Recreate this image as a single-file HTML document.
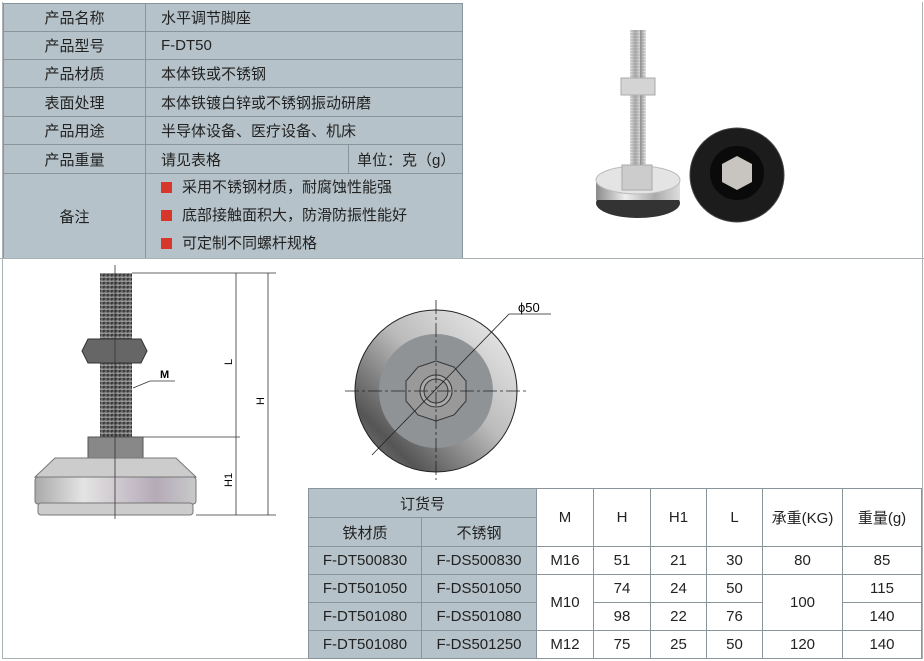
<!DOCTYPE html>
<html><head><meta charset="utf-8"><style>
body{margin:0;background:#fff;width:924px;height:661px;overflow:hidden;position:relative;font-family:"Liberation Sans","Noto Sans CJK SC",sans-serif;color:#222}
table{border-collapse:collapse;position:absolute}
td{border:1px solid #8a959b;padding:0;font-size:15px;font-family:"Liberation Sans","Noto Sans CJK SC",sans-serif;color:#222}
.g{background:#b5c2c9}
.sq{display:inline-block;width:11px;height:11px;background:#d7372b;margin-right:10px;vertical-align:-1px}
</style></head><body>
<div style="position:absolute;left:2px;top:2px;width:919px;height:656px;border:1px solid #a9b1b5;border-top:none"></div>
<table style="left:3px;top:3px;width:460px" class="g">
<tr style="height:28px"><td style="width:141px;text-align:center">产品名称</td><td colspan="2" style="padding-left:15px">水平调节脚座</td></tr>
<tr style="height:28px"><td style="text-align:center">产品型号</td><td colspan="2" style="padding-left:15px">F-DT50</td></tr>
<tr style="height:28px"><td style="text-align:center">产品材质</td><td colspan="2" style="padding-left:15px">本体铁或不锈钢</td></tr>
<tr style="height:29px"><td style="text-align:center">表面处理</td><td colspan="2" style="padding-left:15px">本体铁镀白锌或不锈钢振动研磨</td></tr>
<tr style="height:28px"><td style="text-align:center">产品用途</td><td colspan="2" style="padding-left:15px">半导体设备、医疗设备、机床</td></tr>
<tr style="height:29px"><td style="text-align:center">产品重量</td><td style="padding-left:15px;width:187px">请见表格</td><td style="padding-left:8px">单位：克（g）</td></tr>
<tr style="height:85px"><td style="text-align:center">备注</td><td colspan="2" style="padding-left:15px;line-height:28px"><span class="sq"></span>采用不锈钢材质，耐腐蚀性能强<br><span class="sq"></span>底部接触面积大，防滑防振性能好<br><span class="sq"></span>可定制不同螺杆规格</td></tr>
</table>
<div style="position:absolute;left:0;top:258px;width:924px;height:1px;background:#a9b1b5"></div>
<svg style="position:absolute;left:0;top:0" width="924" height="661">
<defs>
<linearGradient id="st" x1="0" x2="1"><stop offset="0" stop-color="#8a8a8a"/><stop offset=".35" stop-color="#eee"/><stop offset=".7" stop-color="#aaa"/><stop offset="1" stop-color="#ddd"/></linearGradient>
<linearGradient id="bs" x1="0" x2="1"><stop offset="0" stop-color="#aaa"/><stop offset=".3" stop-color="#e4e4e4"/><stop offset=".75" stop-color="#b5aab8"/><stop offset="1" stop-color="#c9c9c9"/></linearGradient>
<linearGradient id="thr" x1="0" x2="1"><stop offset="0" stop-color="#333"/><stop offset=".5" stop-color="#777"/><stop offset="1" stop-color="#222"/></linearGradient>
<linearGradient id="cg" x1="1" y1="0" x2="0" y2="1"><stop offset="0" stop-color="#f2f2f2"/><stop offset=".45" stop-color="#bbb"/><stop offset=".8" stop-color="#555"/><stop offset="1" stop-color="#888"/></linearGradient>
<pattern id="th" width="4" height="4" patternUnits="userSpaceOnUse"><rect width="4" height="4" fill="url(#thr)"/><line x1="0" y1="1" x2="40" y2="3" stroke="#bbb" stroke-width="1"/></pattern>
<pattern id="th2" width="16" height="3" patternUnits="userSpaceOnUse"><rect width="16" height="3" fill="url(#st)"/><line x1="0" y1="1" x2="16" y2="1" stroke="#999" stroke-width="0.6"/></pattern>
</defs>
<!-- photo -->
<rect x="630" y="30" width="16" height="140" fill="url(#th2)"/>
<rect x="621" y="78" width="34" height="17" fill="#d4d4d4" stroke="#aaa"/>
<ellipse cx="638" cy="203" rx="42" ry="15" fill="#333"/>
<rect x="596" y="180" width="84" height="20" fill="url(#st)"/>
<ellipse cx="638" cy="180" rx="42" ry="14" fill="#e4e4e4" stroke="#bbb"/>
<rect x="622" y="165" width="30" height="25" fill="#ccc" stroke="#aaa"/>
<circle cx="737" cy="175" r="47" fill="#1c1c1c" stroke="#444"/>
<circle cx="737" cy="173" r="27" fill="#0a0a0a"/>
<polygon points="737,156 752,164 752,182 737,190 722,182 722,164" fill="#c8c4c0"/>
<!-- drawing 1 -->
<rect x="100" y="273" width="32" height="165" fill="url(#th)"/>
<polygon points="82,351 88,339 141,339 147,351 141,363 88,363" fill="#666" stroke="#333"/>
<rect x="88" y="437" width="55" height="21" fill="#888" stroke="#555"/>
<polygon points="55,458 176,458 196,477 35,477" fill="#ccc" stroke="#777"/>
<rect x="35" y="477" width="161" height="27" rx="3" fill="url(#bs)" stroke="#777"/>
<rect x="38" y="503" width="155" height="12" rx="3" fill="#ccc" stroke="#777"/>
<g stroke="#333" stroke-width="0.8" fill="none">
<line x1="115" y1="265" x2="115" y2="519"/>
<line x1="132" y1="273" x2="276" y2="273"/><line x1="143" y1="437" x2="240" y2="437"/><line x1="196" y1="515" x2="276" y2="515"/>
<line x1="236" y1="273" x2="236" y2="515"/><line x1="268" y1="273" x2="268" y2="515"/>
<polyline points="133,388 150,381 175,381"/>
</g>
<text x="160" y="378" font-size="11" font-weight="bold" font-family="Liberation Sans">M</text>
<text transform="translate(232,365) rotate(-90)" font-size="11" font-family="Liberation Sans">L</text>
<text transform="translate(264,405) rotate(-90)" font-size="11" font-family="Liberation Sans">H</text>
<text transform="translate(232,487) rotate(-90)" font-size="11" font-family="Liberation Sans">H1</text>
<!-- drawing 2 -->
<circle cx="436" cy="391" r="81" fill="url(#cg)" stroke="#222"/>
<circle cx="436" cy="391" r="57" fill="#8f9396"/>
<polygon points="436,361 454,367 466,381 466,401 454,415 436,421 418,415 406,401 406,381 418,367" fill="#999" stroke="#333"/>
<circle cx="436" cy="391" r="16" fill="#aaa" stroke="#333"/>
<circle cx="436" cy="391" r="12" fill="#999" stroke="#333"/>
<g stroke="#222" stroke-width="0.8" fill="none">
<line x1="436" y1="300" x2="436" y2="480" stroke-dasharray="14,3,3,3"/>
<line x1="345" y1="391" x2="527" y2="391" stroke-dasharray="14,3,3,3"/>
<polyline points="372,455 509,314 551,314"/>
</g>
<text x="518" y="312" font-size="13" font-family="Liberation Sans">ϕ50</text>
</svg>
<table style="left:308px;top:488px;width:614px;text-align:center">
<tr style="height:29px"><td colspan="2" class="g">订货号</td><td rowspan="2" style="width:56px">M</td><td rowspan="2" style="width:56px">H</td><td rowspan="2" style="width:55px">H1</td><td rowspan="2" style="width:55px">L</td><td rowspan="2" style="width:79px">承重(KG)</td><td rowspan="2">重量(g)</td></tr>
<tr style="height:29px"><td class="g" style="width:112px">铁材质</td><td class="g" style="width:114px">不锈钢</td></tr>
<tr style="height:28px"><td class="g">F-DT500830</td><td class="g">F-DS500830</td><td>M16</td><td>51</td><td>21</td><td>30</td><td>80</td><td>85</td></tr>
<tr style="height:28px"><td class="g">F-DT501050</td><td class="g">F-DS501050</td><td rowspan="2">M10</td><td>74</td><td>24</td><td>50</td><td rowspan="2">100</td><td>115</td></tr>
<tr style="height:28px"><td class="g">F-DT501080</td><td class="g">F-DS501080</td><td>98</td><td>22</td><td>76</td><td>140</td></tr>
<tr style="height:28px"><td class="g">F-DT501080</td><td class="g">F-DS501250</td><td>M12</td><td>75</td><td>25</td><td>50</td><td>120</td><td>140</td></tr>
</table>
</body></html>
